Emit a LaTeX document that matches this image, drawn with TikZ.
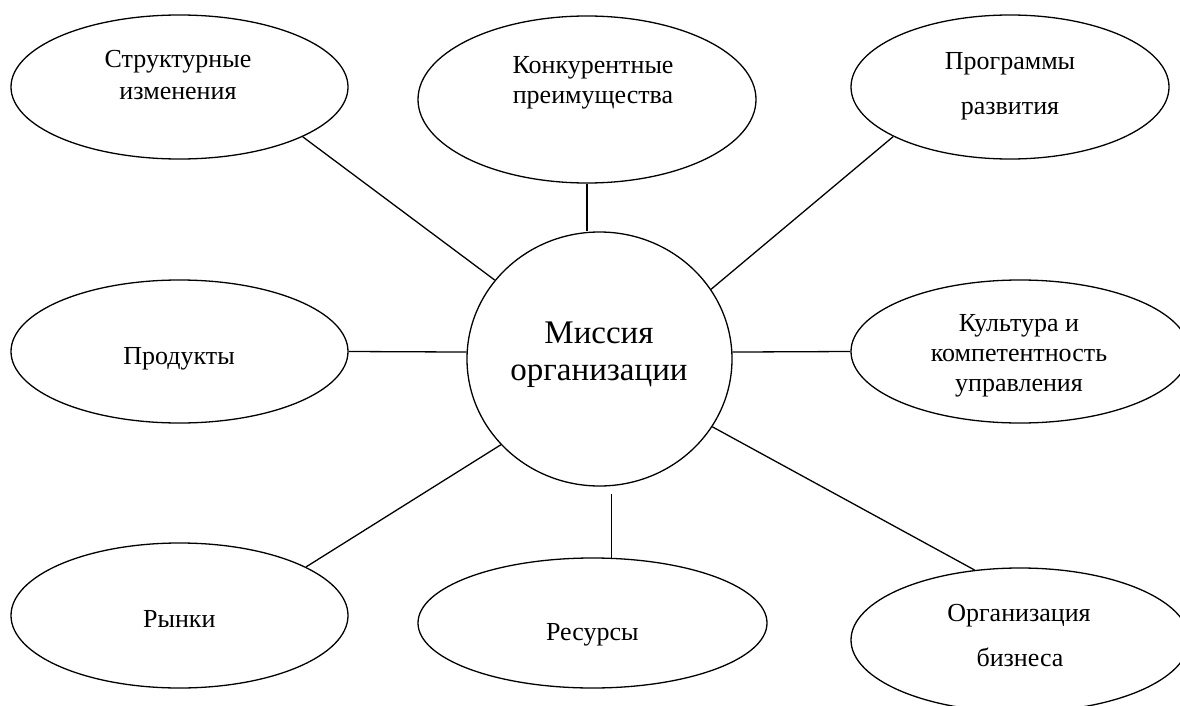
\documentclass[tikz,border=0pt]{standalone}
\usepackage{fontspec}
\setmainfont{Liberation Serif}
\usetikzlibrary{shapes.geometric}

\tikzset{
  bubble/.style={draw, ellipse, line width=1.3pt, inner sep=0pt},
  link/.style={line width=1.3pt},
  word/.style={anchor=base, inner sep=0pt, font=\fontsize{26}{30}\selectfont},
  bigword/.style={anchor=base, inner sep=0pt, font=\fontsize{33}{38}\selectfont},
}

\begin{document}
\begin{tikzpicture}[x=1pt, y=-1pt]
  \useasboundingbox (0,0) rectangle (1180,706);

  % central circle
  \node[bubble, minimum width=265, minimum height=254] (mission) at (599.5,359) {};

  % surrounding ellipses
  \node[bubble, minimum width=337, minimum height=144] (struct)  at (179.5,87)    {};
  \node[bubble, minimum width=338, minimum height=167] (konk)    at (587,99.5)    {};
  \node[bubble, minimum width=318, minimum height=144] (prog)    at (1010,87)     {};
  \node[bubble, minimum width=337, minimum height=143] (prod)    at (179.5,351.5) {};
  \node[bubble, minimum width=338, minimum height=143] (kult)    at (1020,351.5)  {};
  \node[bubble, minimum width=337, minimum height=145] (rynki)   at (179.5,615.5) {};
  \node[bubble, minimum width=349, minimum height=130] (resursy) at (592.5,623)   {};
  \node[bubble, minimum width=338, minimum height=144] (org)     at (1020,640)    {};

  % labels, one node per printed line
  \node[bigword] (m1) at (599,343) {Миссия};
  \node[bigword] (m2) at (599,380) {организации};

  \node[word] (s1) at (178,68)  {Структурные};
  \node[word] (s2) at (178,100) {изменения};

  \node[word] (k1) at (593,74)  {Конкурентные};
  \node[word] (k2) at (593,104) {преимущества};

  \node[word] (p1) at (1010,70)  {Программы};
  \node[word] (p2) at (1010,115) {развития};

  \node[word] (d1) at (179,364) {Продукты};

  \node[word] (c1) at (1019,331.7) {Культура и};
  \node[word] (c2) at (1019,361.7) {компетентность};
  \node[word] (c3) at (1019,391.7) {управления};

  \node[word] (r1) at (179.3,627.3) {Рынки};

  \node[word] (u1) at (592.3,640) {Ресурсы};

  \node[word] (o1) at (1019,621.7) {Организация};
  \node[word] (o2) at (1020,666.7) {бизнеса};

  % connectors
  \draw[link] (struct.-22)    -- (mission.143.7);
  \draw[link] (konk.south)    -- (konk.south |- mission.north);
  \draw[link] (prog.-157.3)   -- (mission.32.9);
  \draw[link] (prod.east)     -- (mission.177);
  \draw[link] (mission.3)     -- (kult.west);
  \draw[link] (rynki.21.9)    -- (mission.221.5);
  \draw[link] (resursy.74.1)  -- ++(0,-64);
  \draw[link] (mission.-31.2) -- (org.123.7);
\end{tikzpicture}
\end{document}
